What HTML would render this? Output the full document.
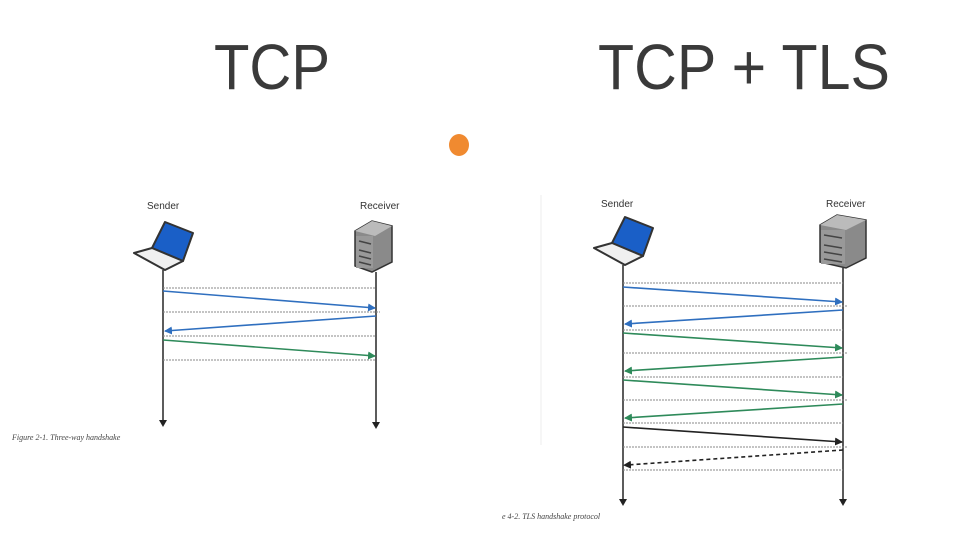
<!DOCTYPE html>
<html><head><meta charset="utf-8"><style>
html,body{margin:0;padding:0;background:#fff;}
svg{display:block;}
</style></head><body>
<svg width="979" height="537" viewBox="0 0 979 537" xmlns="http://www.w3.org/2000/svg">
<defs>
<marker id="ab" markerWidth="8" markerHeight="8" refX="7" refY="4" orient="auto" markerUnits="userSpaceOnUse"><path d="M0,0 L8,4 L0,8 z" fill="#2f6fbf"/></marker>
<marker id="ag" markerWidth="8" markerHeight="8" refX="7" refY="4" orient="auto" markerUnits="userSpaceOnUse"><path d="M0,0 L8,4 L0,8 z" fill="#2e8a5a"/></marker>
<marker id="ak" markerWidth="8" markerHeight="8" refX="7" refY="4" orient="auto" markerUnits="userSpaceOnUse"><path d="M0,0 L8,4 L0,8 z" fill="#222"/></marker>
<marker id="ad" markerWidth="8" markerHeight="8" refX="4" refY="4" orient="auto" markerUnits="userSpaceOnUse"><path d="M0,0 L8,4 L0,8 z" fill="#222"/></marker>
<g id="laptop">
<path d="M0,0 l22,-13 l0,26 l-20,10 z" fill="#1060c8" stroke="#444" stroke-width="2"/>
</g>
</defs>
<rect width="979" height="537" fill="#fff"/>
<text x="214" y="89" font-family="Liberation Sans, sans-serif" font-size="64" fill="#3a3a3a" textLength="116" lengthAdjust="spacingAndGlyphs">TCP</text>
<text x="598" y="89" font-family="Liberation Sans, sans-serif" font-size="64" fill="#3a3a3a" textLength="292" lengthAdjust="spacingAndGlyphs">TCP + TLS</text>
<ellipse cx="459" cy="145" rx="10" ry="11" fill="#f08a30"/>
<line x1="541" y1="195" x2="541" y2="445" stroke="#eee" stroke-width="1"/>

<!-- LEFT -->
<g font-family="Liberation Sans, sans-serif" font-size="10" fill="#333">
<text x="147" y="209">Sender</text><text x="360" y="209">Receiver</text>
<text x="601" y="207">Sender</text><text x="826" y="207">Receiver</text>
</g>
<g font-family="Liberation Serif, serif" font-style="italic" font-size="8" fill="#444">
<text x="12" y="440">Figure 2-1. Three-way handshake</text>
<text x="502" y="519">e 4-2. TLS handshake protocol</text>
</g>

<!-- laptop left -->
<g stroke="#333" stroke-width="2" stroke-linejoin="round">
<path d="M152,248 L165,222 L193,233 L183,261 Z" fill="#1a5fc7"/>
<path d="M134,253 L152,248 L183,261 L165,270 Z" fill="#f0f0f0"/>
</g>
<g stroke="#333" stroke-width="2" stroke-linejoin="round">
<path d="M612,243 L625,217 L653,228 L643,256 Z" fill="#1a5fc7"/>
<path d="M594,248 L612,243 L643,256 L625,265 Z" fill="#f0f0f0"/>
</g>
<!-- servers -->
<g>
<path d="M355,231 L372,221 L392,226 L392,262 L372,272 L355,266 Z" fill="#8a8a8a" stroke="#333" stroke-width="1.5"/>
<path d="M355,231 L372,221 L392,226 L375,236 Z" fill="#bbb"/>
<rect x="356" y="236" width="17" height="32" fill="#999"/>
<g stroke="#444" stroke-width="1.5"><line x1="359" y1="241" x2="371" y2="244"/><line x1="359" y1="250" x2="371" y2="253"/><line x1="359" y1="256" x2="371" y2="259"/><line x1="359" y1="262" x2="371" y2="265"/></g>
</g>
<g>
<path d="M820,225 L837,215 L866,220 L866,258 L846,268 L820,262 Z" fill="#8a8a8a" stroke="#333" stroke-width="1.5"/>
<path d="M820,225 L837,215 L866,220 L846,230 Z" fill="#bbb"/>
<rect x="821" y="230" width="24" height="34" fill="#999"/>
<g stroke="#444" stroke-width="1.5"><line x1="824" y1="235" x2="842" y2="238"/><line x1="824" y1="245" x2="842" y2="248"/><line x1="824" y1="252" x2="842" y2="255"/><line x1="824" y1="259" x2="842" y2="262"/></g>
</g>

<!-- lifelines -->
<g stroke="#333" stroke-width="1.6">
<line x1="163" y1="270" x2="163" y2="421"/><line x1="376" y1="272" x2="376" y2="423"/>
<line x1="623" y1="265" x2="623" y2="500"/><line x1="843" y1="268" x2="843" y2="500"/>
</g>
<g fill="#222">
<path d="M159,420 l8,0 l-4,7 z"/><path d="M372,422 l8,0 l-4,7 z"/>
<path d="M619,499 l8,0 l-4,7 z"/><path d="M839,499 l8,0 l-4,7 z"/>
</g>
<!-- dotted -->
<g stroke="#888" stroke-width="1" stroke-dasharray="2,1">
<line x1="163" y1="288" x2="376" y2="288"/><line x1="163" y1="312" x2="380" y2="312"/>
<line x1="163" y1="336" x2="376" y2="336"/><line x1="163" y1="360" x2="376" y2="360"/>
<line x1="623" y1="283" x2="843" y2="283"/><line x1="623" y1="306" x2="847" y2="306"/>
<line x1="623" y1="330" x2="843" y2="330"/><line x1="623" y1="353" x2="847" y2="353"/>
<line x1="623" y1="377" x2="843" y2="377"/><line x1="623" y1="400" x2="847" y2="400"/>
<line x1="623" y1="423" x2="843" y2="423"/><line x1="623" y1="447" x2="847" y2="447"/>
<line x1="623" y1="470" x2="843" y2="470"/>
</g>
<!-- arrows -->
<g stroke-width="1.6" fill="none">
<line x1="163" y1="291" x2="375" y2="308" stroke="#2f6fbf" marker-end="url(#ab)"/>
<line x1="376" y1="316" x2="165" y2="331" stroke="#2f6fbf" marker-end="url(#ab)"/>
<line x1="163" y1="340" x2="375" y2="356" stroke="#2e8a5a" marker-end="url(#ag)"/>

<line x1="623" y1="287" x2="842" y2="302" stroke="#2f6fbf" marker-end="url(#ab)"/>
<line x1="843" y1="310" x2="625" y2="324" stroke="#2f6fbf" marker-end="url(#ab)"/>
<line x1="623" y1="333" x2="842" y2="348" stroke="#2e8a5a" marker-end="url(#ag)"/>
<line x1="843" y1="357" x2="625" y2="371" stroke="#2e8a5a" marker-end="url(#ag)"/>
<line x1="623" y1="380" x2="842" y2="395" stroke="#2e8a5a" marker-end="url(#ag)"/>
<line x1="843" y1="404" x2="625" y2="418" stroke="#2e8a5a" marker-end="url(#ag)"/>
<line x1="623" y1="427" x2="842" y2="442" stroke="#222" marker-end="url(#ak)"/>
<line x1="843" y1="450" x2="627" y2="465" stroke="#222" stroke-dasharray="4,3" marker-end="url(#ad)"/>
</g>
</svg>
</body></html>
